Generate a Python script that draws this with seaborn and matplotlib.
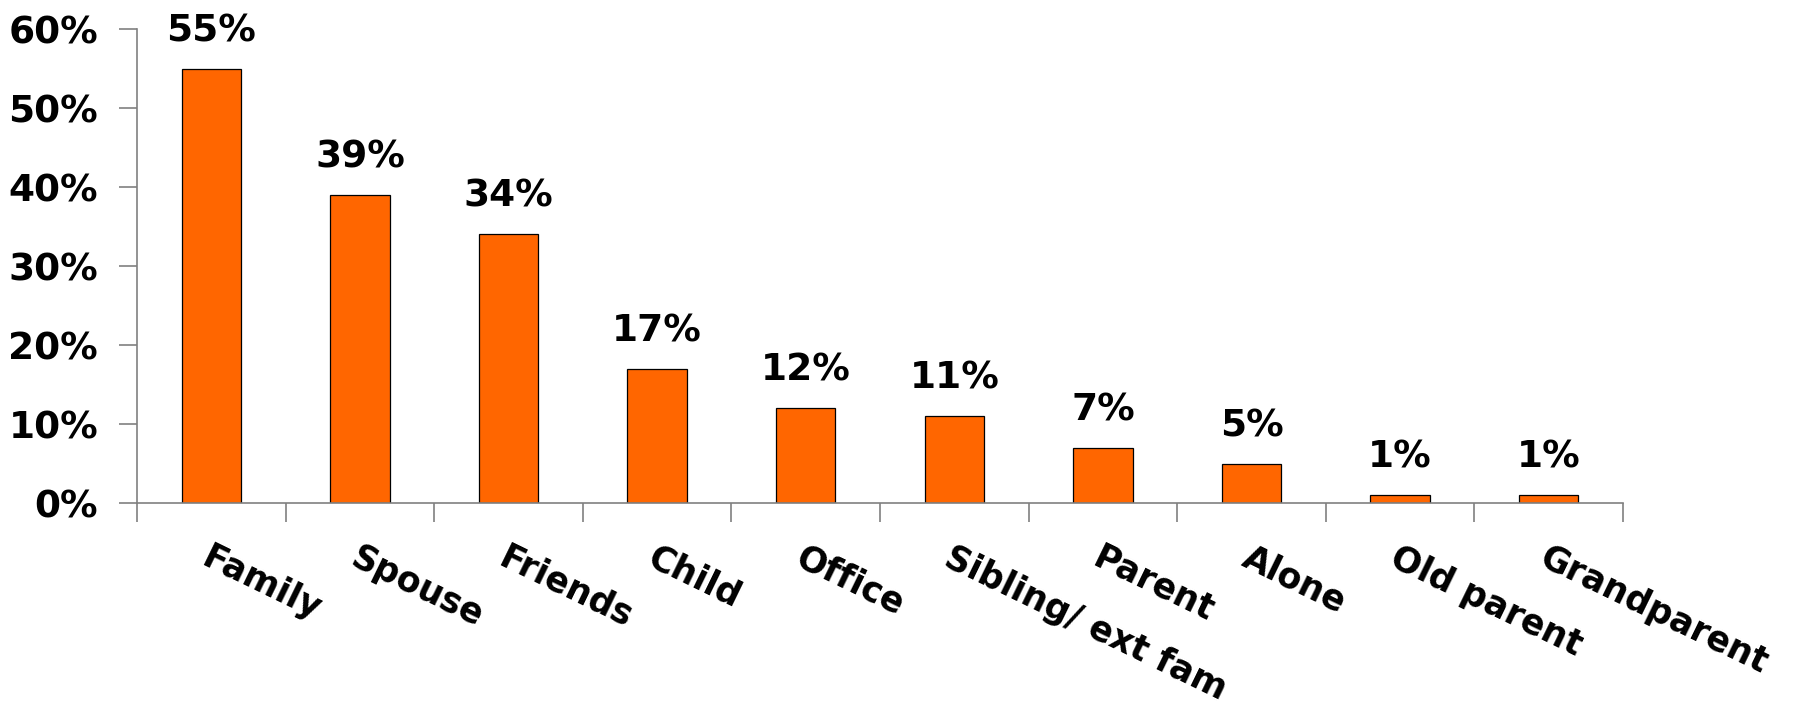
import matplotlib
matplotlib.use("Agg")
import matplotlib.pyplot as plt
import seaborn as sns
import pandas as pd
from matplotlib.ticker import FixedLocator

categories = ["Family", "Spouse", "Friends", "Child", "Office",
              "Sibling/ ext fam", "Parent", "Alone", "Old parent", "Grandparent"]
values = [55, 39, 34, 17, 12, 11, 7, 5, 1, 1]
y_ticks = [0, 10, 20, 30, 40, 50, 60]
y_tick_labels = ["0%", "10%", "20%", "30%", "40%", "50%", "60%"]

sns.set_theme(style="white")
plt.rcParams["font.family"] = ["DejaVu Sans"]

df = pd.DataFrame({"who": categories, "share": values})

fig = plt.figure(figsize=(18.08, 7.08), dpi=100)
ax = fig.add_axes([0.0758, 0.2895, 0.8219, 0.6695])

sns.barplot(data=df, x="who", y="share", color="#FF6600", width=0.4,
            edgecolor="black", linewidth=0.9, saturation=1, ax=ax)

ax.set_xlim(-0.5, len(categories) - 0.5)
ax.set_ylim(0, 60)
ax.set_xlabel("")
ax.set_ylabel("")

gray = "#808080"
for side in ["top", "right"]:
    ax.spines[side].set_visible(False)
for side in ["left", "bottom"]:
    ax.spines[side].set_color(gray)
    ax.spines[side].set_linewidth(1.2)

# y axis: outward ticks every 10%
ax.set_yticks(y_ticks)
ax.set_yticklabels(y_tick_labels, fontsize=27, fontweight="bold", color="black")
ax.tick_params(axis="y", which="major", left=True, length=13, width=1.2,
               color=gray, direction="out", pad=15)

# x axis: tick marks between categories, labels under the bar centres
ax.set_xticks(range(len(categories)))
ax.set_xticklabels(categories, fontsize=25, fontweight="bold", color="black",
                   rotation=-26, ha="left", va="top", rotation_mode="anchor")
ax.tick_params(axis="x", which="major", length=0, pad=27)
ax.xaxis.set_minor_locator(FixedLocator([i - 0.5 for i in range(len(categories) + 1)]))
ax.tick_params(axis="x", which="minor", bottom=True, length=14, width=1.2,
               color=gray, direction="out")

# value labels above bars
for i, v in enumerate(values):
    ax.annotate(f"{v}%", xy=(i, v), xytext=(0, 14), textcoords="offset points",
                ha="center", va="bottom", fontsize=27, fontweight="bold",
                color="black")

ax.grid(False)
fig.savefig("out.png", dpi=100, facecolor="white")
